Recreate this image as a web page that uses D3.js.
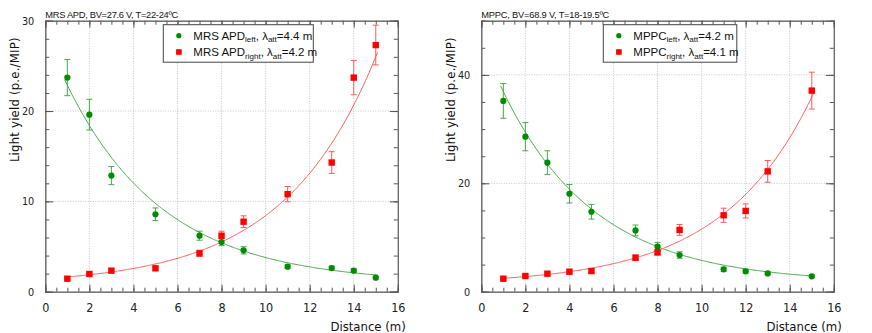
<!DOCTYPE html>
<html lang="en">
<head>
<meta charset="UTF-8">
<title>Light yield vs distance</title>
<style>
  *{margin:0;padding:0;}
  body{background:#fff;}
  svg text{font-family:"DejaVu Sans Condensed","DejaVu Sans",sans-serif;}
  .ttl, .leg text{font-family:"Liberation Sans",Arial,sans-serif;}
</style>
</head>
<body>
<div id="container"></div>
<script src="https://cdn.jsdelivr.net/npm/d3@7"></script>
<script>
// MRS APD panel
var mrsDist = [1, 2, 3, 5, 7, 8, 9, 11, 13, 14, 15]
var mrsLeft = [23.7, 19.6, 12.85, 8.57, 6.2, 5.5, 4.58, 2.77, 2.62, 2.33, 1.55]
var mrsLeftErr = [2.0, 1.7, 1.0, 0.7, 0.5, 0.4, 0.4, 0.2, 0.2, 0.2, 0.15]
var mrsRight = [1.44, 1.96, 2.33, 2.59, 4.25, 6.2, 7.75, 10.8, 14.3, 23.7, 27.3]
var mrsRightErr = [0.1, 0.15, 0.2, 0.2, 0.35, 0.5, 0.65, 0.85, 1.2, 1.9, 2.2]
// fit: amp*exp(-+x/lambda)+c
var mrsFitLeft = [27.5, 4.4, 0.95]
var mrsFitRight = [0.711, 4.2, 0.73]

// MPPC panel
var mppcDist = [1, 2, 3, 4, 5, 7, 8, 9, 11, 12, 13, 15]
var mppcLeft = [35.2, 28.6, 23.8, 18.07, 14.75, 11.3, 8.3, 6.77, 4.12, 3.75, 3.38, 2.83]
var mppcLeftErr = [3.2, 2.6, 2.2, 1.7, 1.35, 1.0, 0.8, 0.6, 0.4, 0.35, 0.3, 0.25]
var mppcRight = [2.4, 2.9, 3.32, 3.69, 3.81, 6.27, 7.26, 11.4, 14.1, 14.9, 22.2, 37.1]
var mppcRightErr = [0.2, 0.25, 0.3, 0.3, 0.35, 0.5, 0.5, 1.0, 1.3, 1.3, 2.0, 3.4]
var mppcFitLeft = [44.75, 4.2, 1.64]
var mppcFitRight = [0.891, 4.1, 1.33]

var xTicks = [0, 2, 4, 6, 8, 10, 12, 14, 16]
var mrsYTicks = [0, 10, 20, 30]
var mppcYTicks = [0, 20, 40]

var W = 872, H = 333
var svg = d3.select('#container').append('svg').attr('width', W).attr('height', H)

var green = '#008c00', greenLight = '#4aa84a'
var red = '#ff0000', redLight = '#ff5a5a'

function panel(o) {
  var pw = 352.5, ph = 271
  var g = svg.append('g').attr('transform', `translate(${o.px},20.7)`)
  var x = d3.scaleLinear().domain([0, 16]).range([0, pw])
  var y = d3.scaleLinear().domain([0, o.ymax]).range([ph, 0])

  // grid
  g.append('g').selectAll('line').data(xTicks.slice(1, -1)).enter().append('line')
    .attr('x1', d => x(d)).attr('x2', d => x(d)).attr('y1', 0).attr('y2', ph)
    .attr('stroke', '#c4c4c4').attr('stroke-dasharray', '1,1.5')
  g.append('g').selectAll('line').data(o.yTicks.slice(1).filter(d => d < o.ymax)).enter().append('line')
    .attr('x1', 0).attr('x2', pw).attr('y1', d => y(d)).attr('y2', d => y(d))
    .attr('stroke', '#c4c4c4').attr('stroke-dasharray', '1,1.5')

  // ticks
  var minorY = d3.range(0, o.ymax + 0.001, o.yMinor)
  var minorX = d3.range(0, 16.001, 0.5)
  g.append('g').call(d3.axisLeft(y).tickValues(minorY).tickSize(-4).tickFormat(''))
  g.append('g').attr('transform', `translate(${pw},0)`).call(d3.axisRight(y).tickValues(minorY).tickSize(-4).tickFormat(''))
  g.append('g').attr('transform', `translate(0,${ph})`).call(d3.axisBottom(x).tickValues(minorX).tickSize(-4).tickFormat(''))
  g.append('g').call(d3.axisTop(x).tickValues(minorX).tickSize(-4).tickFormat(''))
  var ay = g.append('g').call(d3.axisLeft(y).tickValues(o.yTicks).tickSize(-8).tickPadding(11).tickFormat(d3.format('d')))
  g.append('g').attr('transform', `translate(${pw},0)`).call(d3.axisRight(y).tickValues(o.yTicks).tickSize(-8).tickFormat(''))
  var ax = g.append('g').attr('transform', `translate(0,${ph})`).call(d3.axisBottom(x).tickValues(xTicks).tickSize(-7).tickPadding(11).tickFormat(d3.format('d')))
  g.append('g').call(d3.axisTop(x).tickValues(xTicks).tickSize(-7).tickFormat(''))
  g.selectAll('.domain').attr('stroke', '#666')
  g.selectAll('.tick line').attr('stroke', '#555')
  var tf = '"DejaVu Sans Condensed","DejaVu Sans",sans-serif'
  ay.selectAll('text').attr('font-size', 10.8).attr('fill', '#222').attr('font-family', tf)
  ax.selectAll('text').attr('font-size', 12.5).attr('fill', '#222').attr('font-family', tf).attr('dy', '0.71em')

  // fits
  var xs = d3.range(0.88, 15.1, 0.05)
  var line = d3.line().x(d => x(d[0])).y(d => y(d[1]))
  g.append('path').datum(xs.map(d => [d, o.fitL[0] * Math.exp(-d / o.fitL[1]) + o.fitL[2]]))
    .attr('d', line).attr('fill', 'none').attr('stroke', greenLight).attr('stroke-width', 1)
  g.append('path').datum(xs.map(d => [d, o.fitR[0] * Math.exp(d / o.fitR[1]) + o.fitR[2]]))
    .attr('d', line).attr('fill', 'none').attr('stroke', redLight).attr('stroke-width', 1)

  function errBars(vals, errs, col) {
    var eb = g.append('g').selectAll('g').data(o.dist).enter().append('g')
      .attr('stroke', col).attr('stroke-width', 1)
    eb.append('line').attr('x1', d => x(d)).attr('x2', d => x(d))
      .attr('y1', (d, i) => y(vals[i] + errs[i])).attr('y2', (d, i) => y(vals[i] - errs[i]))
    eb.append('line').attr('x1', d => x(d) - 3).attr('x2', d => x(d) + 3)
      .attr('y1', (d, i) => y(vals[i] + errs[i])).attr('y2', (d, i) => y(vals[i] + errs[i]))
    eb.append('line').attr('x1', d => x(d) - 3).attr('x2', d => x(d) + 3)
      .attr('y1', (d, i) => y(vals[i] - errs[i])).attr('y2', (d, i) => y(vals[i] - errs[i]))
  }
  errBars(o.lv, o.lvErr, greenLight)
  errBars(o.rv, o.rvErr, redLight)

  g.append('g').selectAll('circle').data(o.dist).enter().append('circle')
    .attr('cx', d => x(d)).attr('cy', (d, i) => y(o.lv[i])).attr('r', 3.1).attr('fill', green)
  g.append('g').selectAll('rect').data(o.dist).enter().append('rect')
    .attr('x', d => x(d) - 3.2).attr('y', (d, i) => y(o.rv[i]) - 3.2)
    .attr('width', 6.4).attr('height', 6.4).attr('fill', red)

  // texts
  g.append('text').attr('class', 'ttl').attr('x', 0).attr('y', -2.5).attr('font-size', 9.3).attr('fill', '#111')
    .attr('textLength', o.titleW).attr('lengthAdjust', 'spacing').text(o.title)
  g.append('text').attr('transform', `translate(${-26.5},${79}) rotate(-90)`).attr('text-anchor', 'middle')
    .attr('font-family', '"DejaVu Sans",sans-serif')
    .attr('font-size', 13).attr('fill', '#111').attr('letter-spacing', 0.2).text('Light yield (p.e./MIP)')
  g.append('text').attr('x', pw + 8).attr('y', ph + 39).attr('text-anchor', 'end')
    .attr('font-size', 13).attr('fill', '#111').text('Distance (m)')

  // legend
  var leg = g.append('g').attr('class', 'leg').attr('transform', `translate(${o.legX},4)`)
  leg.append('rect').attr('width', o.legW).attr('height', 37.5).attr('fill', '#fff').attr('stroke', '#444')
  var rows = [[o.name, 'left', o.fitL[1]], [o.name, 'right', o.fitR[1]]]
  rows.forEach(function (r, i) {
    var cy = 11 + i * 16.3
    if (i == 0) leg.append('circle').attr('cx', 15.5).attr('cy', cy).attr('r', 2.6).attr('fill', green)
    else leg.append('rect').attr('x', 12.8).attr('y', cy - 2.8).attr('width', 5.6).attr('height', 5.6).attr('fill', red)
    var t = leg.append('text').attr('x', 30).attr('y', cy + 4.2).attr('font-size', 11.5).attr('fill', '#111')
    t.append('tspan').text(r[0])
    t.append('tspan').attr('font-size', 8).attr('dy', 2.5).text(r[1])
    t.append('tspan').attr('dy', -2.5).text(', λ')
    t.append('tspan').attr('font-size', 8).attr('dy', 2.5).text('att')
    t.append('tspan').attr('dy', -2.5).text('=' + d3.format('.1f')(r[2]) + ' m')
  })
}

panel({px: 45.3, ymax: 30, yTicks: mrsYTicks, yMinor: 2, dist: mrsDist,
  lv: mrsLeft, lvErr: mrsLeftErr, rv: mrsRight, rvErr: mrsRightErr,
  fitL: mrsFitLeft, fitR: mrsFitRight, titleW: 133,
  title: 'MRS APD, BV=27.6 V, T=22-24ºC', name: 'MRS APD', legX: 118, legW: 150})

panel({px: 481.3, ymax: 50, yTicks: mppcYTicks, yMinor: 5, dist: mppcDist,
  lv: mppcLeft, lvErr: mppcLeftErr, rv: mppcRight, rvErr: mppcRightErr,
  fitL: mppcFitLeft, fitR: mppcFitRight, titleW: 128,
  title: 'MPPC, BV=68.9 V, T=18-19.5ºC', name: 'MPPC', legX: 122, legW: 133.5})
</script>
</body>
</html>
